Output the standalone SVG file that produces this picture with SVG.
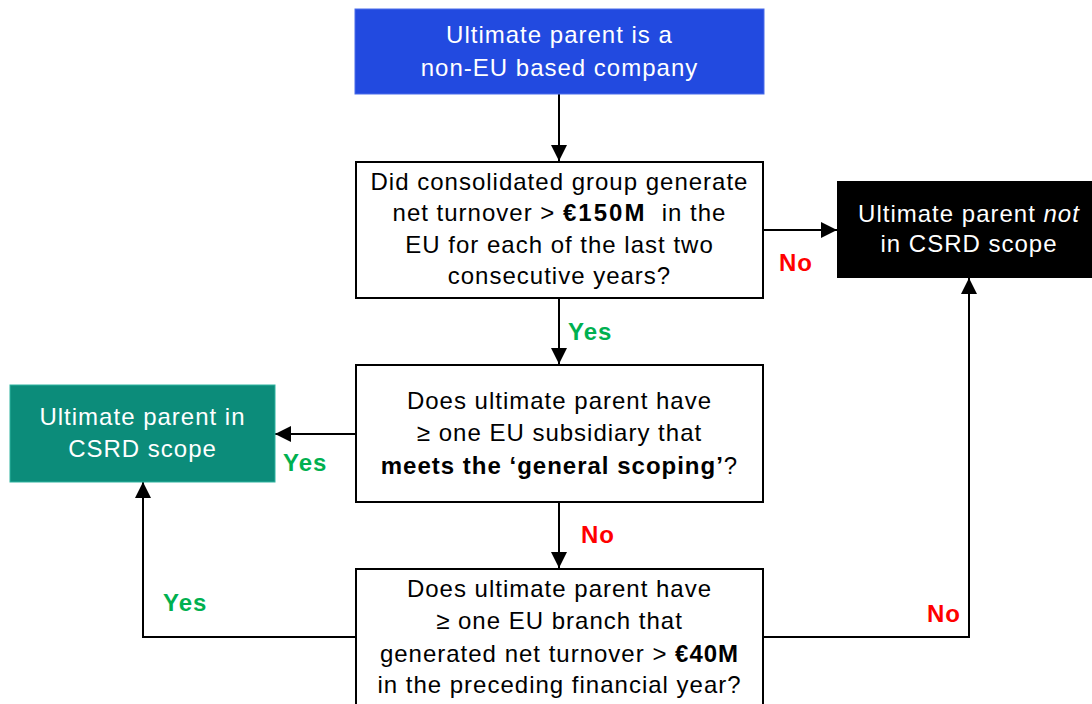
<svg xmlns="http://www.w3.org/2000/svg" width="1092" height="704" viewBox="0 0 1092 704">
  <style>
    .t { font-family: "Liberation Sans", Arial, sans-serif; font-size: 24px; letter-spacing: 1px; text-anchor: middle; white-space: pre; }
    .dark { fill: #000000; }
    .light { fill: #ffffff; }
    .b { font-weight: bold; }
    .box { fill: #ffffff; stroke: #000000; stroke-width: 2; }
    .edge { fill: none; stroke: #000000; stroke-width: 2; }
    .lbl { font-family: "Liberation Sans", Arial, sans-serif; font-size: 24px; font-weight: bold; letter-spacing: 1px; }
    .yes { fill: #00B050; }
    .no { fill: #FF0000; }
  </style>
  <defs>
    <marker id="arrow" markerUnits="userSpaceOnUse" markerWidth="16" markerHeight="16" refX="16" refY="8" orient="auto">
      <path d="M0,0 L16,8 L0,16 Z" fill="#000000"/>
    </marker>
  </defs>

  <rect width="1092" height="704" fill="#ffffff"/>

  <!-- connectors -->
  <g id="connectors">
    <line class="edge" x1="559" y1="94" x2="559" y2="161" marker-end="url(#arrow)"/>
    <line class="edge" x1="763" y1="230" x2="837" y2="230" marker-end="url(#arrow)"/>
    <line class="edge" x1="559" y1="298" x2="559" y2="364" marker-end="url(#arrow)"/>
    <line class="edge" x1="356" y1="434" x2="275" y2="434" marker-end="url(#arrow)"/>
    <line class="edge" x1="559" y1="502" x2="559" y2="568" marker-end="url(#arrow)"/>
    <polyline class="edge" points="356,637 143,637 143,482" marker-end="url(#arrow)"/>
    <polyline class="edge" points="763,637 969,637 969,278" marker-end="url(#arrow)"/>

    <text class="lbl no" x="779" y="271">No</text>
    <text class="lbl yes" x="568" y="340">Yes</text>
    <text class="lbl yes" x="283" y="471">Yes</text>
    <text class="lbl no" x="581" y="543">No</text>
    <text class="lbl yes" x="163" y="611">Yes</text>
    <text class="lbl no" x="927" y="622">No</text>
  </g>

  <!-- start -->
  <g id="start">
    <rect x="355" y="9" width="409" height="85" fill="#224AE0" stroke="#4a6cea" stroke-width="1"/>
    <text class="t light" x="559.5" y="43">Ultimate parent is a</text>
    <text class="t light" x="559.5" y="76">non-EU based company</text>
  </g>

  <!-- turnover test -->
  <g id="q-turnover">
    <rect class="box" x="356" y="162" width="407" height="136"/>
    <text class="t dark" x="559.5" y="190">Did consolidated group generate</text>
    <text class="t dark" x="559.5" y="221">net turnover &gt; <tspan class="b" letter-spacing="2">€150M</tspan>  in the</text>
    <text class="t dark" x="559.5" y="253">EU for each of the last two</text>
    <text class="t dark" x="559.5" y="284">consecutive years?</text>
  </g>

  <!-- subsidiary test -->
  <g id="q-subsidiary">
    <rect class="box" x="356" y="365" width="407" height="137"/>
    <text class="t dark" x="559.5" y="409">Does ultimate parent have</text>
    <text class="t dark" x="559.5" y="441">≥ one EU subsidiary that</text>
    <text class="t dark" x="559.5" y="474"><tspan class="b">meets the ‘general scoping’</tspan>?</text>
  </g>

  <!-- branch test -->
  <g id="q-branch">
    <rect class="box" x="356" y="569" width="407" height="140"/>
    <text class="t dark" x="559.5" y="597">Does ultimate parent have</text>
    <text class="t dark" x="559.5" y="629">≥ one EU branch that</text>
    <text class="t dark" x="559.5" y="662">generated net turnover &gt; <tspan class="b">€40M</tspan></text>
    <text class="t dark" x="559.5" y="693">in the preceding financial year?</text>
  </g>

  <!-- in scope -->
  <g id="in-scope">
    <rect x="10" y="385" width="265" height="97" fill="#0C8C7A" stroke="#2fb3a0" stroke-width="1"/>
    <text class="t light" x="142.5" y="425">Ultimate parent in</text>
    <text class="t light" x="142.5" y="457">CSRD scope</text>
  </g>

  <!-- not in scope -->
  <g id="not-in-scope">
    <rect x="837" y="181" width="260" height="97" fill="#000000"/>
    <text class="t light" x="969" y="222">Ultimate parent <tspan font-style="italic">not</tspan></text>
    <text class="t light" x="969" y="252">in CSRD scope</text>
  </g>
</svg>
